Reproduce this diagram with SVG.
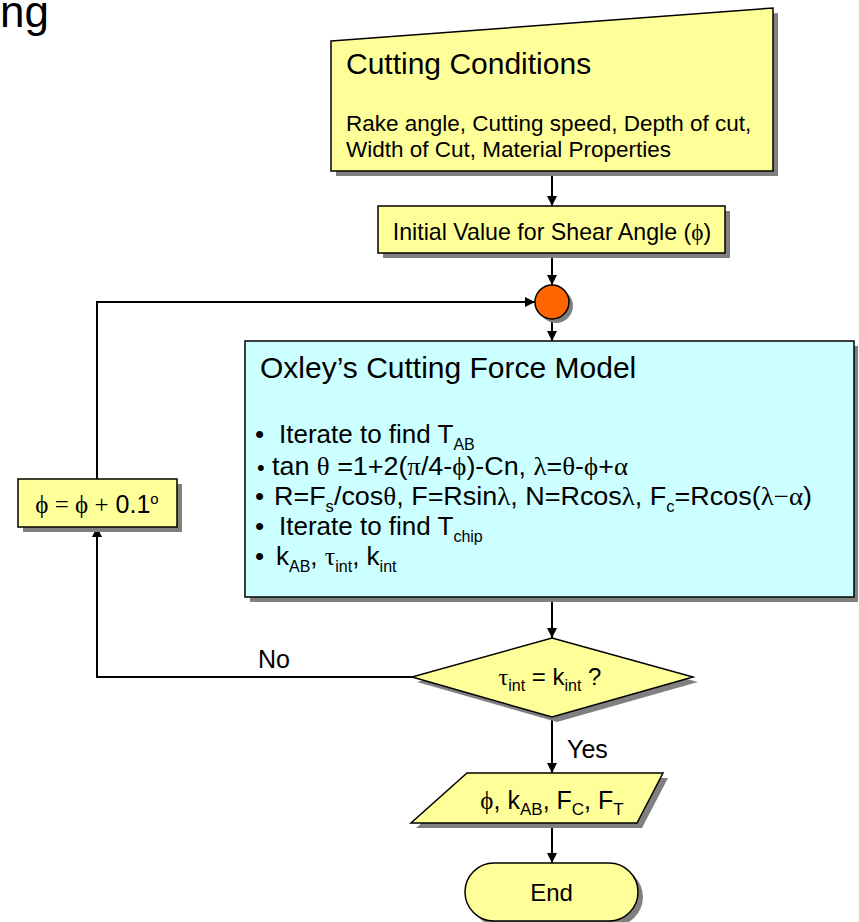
<svg xmlns="http://www.w3.org/2000/svg" width="859" height="922" viewBox="0 0 859 922">
<style>
text{font-family:"Liberation Sans",Arial,sans-serif;fill:#000}
.g{font-family:"Liberation Serif","DejaVu Serif",serif}
.sh{fill:#808080;stroke:none}
.y{fill:#FFFF99;stroke:#000;stroke-width:1.5}
.c{fill:#CCFFFF;stroke:#000;stroke-width:1.5}
.o{fill:#FF6600;stroke:#000;stroke-width:1.5}
.ln{fill:none;stroke:#000;stroke-width:2}
.t22{font-size:22.5px}
.t24{font-size:24px}
.t25{font-size:25px}
.t30{font-size:30px}
.b{font-size:26px}
.s{font-size:16px}
</style>
<defs>
<marker id="ah" viewBox="0 0 10 10" refX="10" refY="5" markerWidth="10" markerHeight="10" markerUnits="userSpaceOnUse" orient="auto">
<path d="M0,0 L10,5 L0,10 z" fill="#000"/>
</marker>
</defs>
<text x="0" y="27" style="font-size:44px">ng</text>

<g id="connectors">
<line class="ln" x1="552" y1="171" x2="552" y2="206" marker-end="url(#ah)"/>
<line class="ln" x1="552" y1="253" x2="552" y2="285" marker-end="url(#ah)"/>
<line class="ln" x1="552" y1="319" x2="552" y2="341" marker-end="url(#ah)"/>
<line class="ln" x1="552" y1="597" x2="552" y2="638" marker-end="url(#ah)"/>
<polyline class="ln" points="412,677 97,677 97,527" marker-end="url(#ah)"/>
<polyline class="ln" points="97,479 97,302 535,302" marker-end="url(#ah)"/>
<line class="ln" x1="552" y1="717" x2="552" y2="773" marker-end="url(#ah)"/>
<line class="ln" x1="552" y1="823" x2="552" y2="863" marker-end="url(#ah)"/>
<text x="258" y="668" class="t25">No</text>
<text x="567" y="758" class="t25">Yes</text>
</g>

<g id="cutting-conditions">
<polygon class="sh" points="336,46 778,13 778,176 336,176"/>
<polygon class="y" points="331,41 773,8 773,171 331,171"/>
<text x="346" y="74" class="t30">Cutting Conditions</text>
<text x="346" y="131" class="t22">Rake angle, Cutting speed, Depth of cut,</text>
<text x="346" y="157" class="t22">Width of Cut, Material Properties</text>
</g>

<g id="initial-value">
<rect class="sh" x="383" y="211" width="347" height="47"/>
<rect class="y" x="378" y="206" width="347" height="47"/>
<text x="552" y="240" style="font-size:23.2px" text-anchor="middle">Initial Value for Shear Angle (<tspan class="g">ϕ</tspan>)</text>
</g>

<g id="junction">
<circle class="sh" cx="556" cy="306" r="17"/>
<circle class="o" cx="552" cy="302" r="17"/>
</g>

<g id="oxley-model">
<rect class="sh" x="250" y="346" width="608" height="256"/>
<rect class="c" x="245" y="341" width="609" height="256"/>
<text x="260" y="378" class="t30">Oxley’s Cutting Force Model</text>
<text x="255" y="443" class="b">•<tspan x="279">Iterate to find T</tspan><tspan class="s" dy="7">AB</tspan></text>
<text x="257" y="475" class="b" style="font-size:22px">•</text>
<text x="272" y="475" class="b" textLength="356" lengthAdjust="spacingAndGlyphs">tan <tspan class="g">θ</tspan> =1+2(<tspan class="g">π</tspan>/4-<tspan class="g">ϕ</tspan>)-Cn, <tspan class="g">λ</tspan>=<tspan class="g">θ</tspan>-<tspan class="g">ϕ</tspan>+<tspan class="g">α</tspan></text>
<text x="255" y="505" class="b">•</text>
<text x="274" y="505" class="b" textLength="538" lengthAdjust="spacingAndGlyphs">R=F<tspan class="s" dy="7">s</tspan><tspan dy="-7">/cos</tspan><tspan class="g">θ</tspan>, F=Rsin<tspan class="g">λ</tspan>, N=Rcos<tspan class="g">λ</tspan>, F<tspan class="s" dy="7">c</tspan><tspan dy="-7">=Rcos(</tspan><tspan class="g">λ−α</tspan>)</text>
<text x="255" y="535" class="b">•<tspan x="279">Iterate to find T</tspan><tspan class="s" dy="7">chip</tspan></text>
<text x="255" y="565" class="b">•<tspan x="276">k</tspan><tspan class="s" dy="7">AB</tspan><tspan dy="-7">, </tspan><tspan class="g">τ</tspan><tspan class="s" dy="7">int</tspan><tspan dy="-7">, k</tspan><tspan class="s" dy="7">int</tspan></text>
</g>

<g id="phi-update">
<rect class="sh" x="23" y="484" width="159" height="48"/>
<rect class="y" x="18" y="479" width="159" height="48"/>
<text x="97" y="513" style="font-size:25px" text-anchor="middle"><tspan class="g">ϕ = ϕ +</tspan> 0.1<tspan font-size="15" dy="-9">o</tspan></text>
</g>

<g id="decision">
<polygon class="sh" points="557,643 698,682 557,722 417,682"/>
<polygon class="y" points="552,638 693,677 552,717 412,677"/>
<text x="550" y="685" class="t24" text-anchor="middle"><tspan class="g">τ</tspan><tspan class="s" dy="6">int</tspan><tspan dy="-6"> = k</tspan><tspan class="s" dy="6">int</tspan><tspan dy="-6"> ?</tspan></text>
</g>

<g id="output">
<polygon class="sh" points="472,778 668,778 642,828 416,828"/>
<polygon class="y" points="467,773 663,773 637,823 411,823"/>
<text x="552" y="809" class="t25" text-anchor="middle"><tspan class="g">ϕ</tspan>, k<tspan font-size="17" dy="6">AB</tspan><tspan dy="-6">, F</tspan><tspan font-size="17" dy="6">C</tspan><tspan dy="-6">, F</tspan><tspan font-size="17" dy="6">T</tspan></text>
</g>

<g id="end">
<rect class="sh" x="470" y="868" width="173" height="58" rx="29"/>
<rect class="y" x="465" y="863" width="173" height="58" rx="29"/>
<text x="551.5" y="901" class="t24" text-anchor="middle">End</text>
</g>
</svg>
